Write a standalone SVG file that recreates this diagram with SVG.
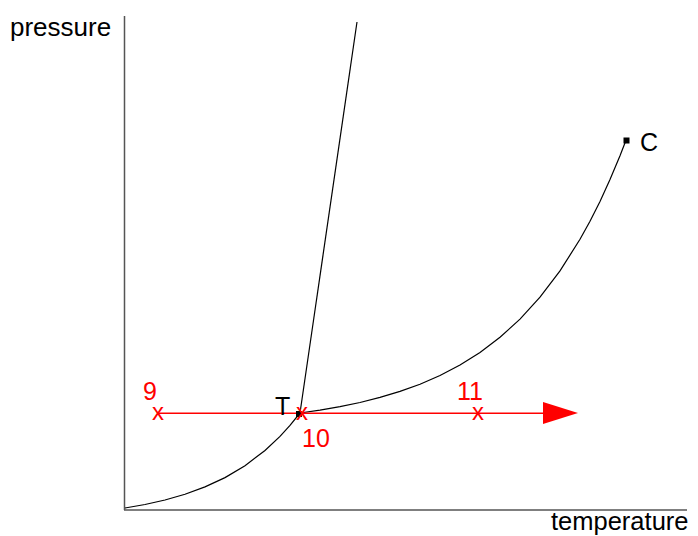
<svg xmlns="http://www.w3.org/2000/svg" width="698" height="536" viewBox="0 0 698 536">
<style>
text{font-family:"Liberation Sans",Arial,sans-serif;font-size:25px}
.axis{stroke:#555;stroke-width:1.5;fill:none}
.curve{stroke:#000;stroke-width:1.2;fill:none}
.red{fill:#f00}
.lbl{fill:#000}
</style>
<rect width="698" height="536" fill="#fff"/>
<g id="axes">
<line class="axis" x1="124.5" y1="16" x2="124.5" y2="510"/>
<line class="axis" x1="124" y1="510" x2="687" y2="510"/>
<text x="10" y="36" class="lbl" style="font-size:26px">pressure</text>
<text x="551" y="530" class="lbl" style="font-size:25.5px">temperature</text>
</g>
<g id="connectors">
<polyline class="curve" points="125,508 145,504.5 165,500 185,494.3 205,486.9 225,477.6 245,465.7 265,450.5 280,436.4 290,425.4 300,413"/>
<line class="curve" x1="300" y1="413" x2="357" y2="22"/>
<polyline class="curve" points="300,413 320,410.1 340,406.6 360,402.5 380,397.4 400,391.4 420,384.2 440,375.5 460,365 480,352.4 500,337.3 520,319.1 540,297.2 560,270.9 580,239.3 590,221.2 600,201.4 610,179.6 620,155.7 626,140.3"/>
<rect class="red" x="158" y="412.5" width="387" height="1.5"/>
<polygon class="red" points="543,402 578,413 543,424"/>
</g>
<g id="node-T">
<rect x="296" y="411" width="6" height="6" fill="#000"/>
<text x="275" y="415" class="lbl">T</text>
</g>
<g id="node-C">
<rect x="623.5" y="137.5" width="6" height="6" fill="#000"/>
<text x="640" y="151" class="lbl">C</text>
</g>
<g id="node-9">
<text x="158" y="420" class="red" text-anchor="middle" style="font-size:24px">x</text>
<text x="143" y="400" class="red">9</text>
</g>
<g id="node-10">
<text x="302" y="420" class="red" text-anchor="middle" style="font-size:24px">x</text>
<text x="302" y="447" class="red">10</text>
</g>
<g id="node-11">
<text x="478" y="420" class="red" text-anchor="middle" style="font-size:24px">x</text>
<text x="457" y="400" class="red">11</text>
</g>
</svg>
